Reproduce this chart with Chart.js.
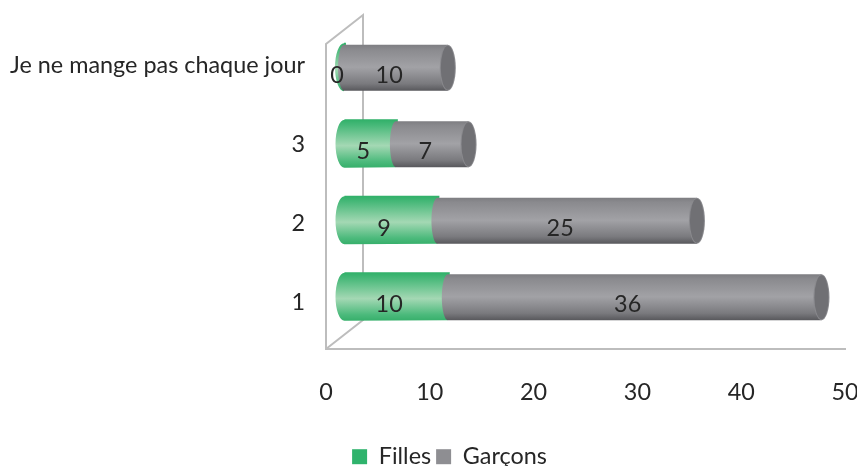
<!DOCTYPE html>
<html><head><meta charset="utf-8">
<style>html,body{margin:0;padding:0;background:#fff}canvas{display:block}</style>
<script src="https://cdn.jsdelivr.net/npm/chart.js@4"></script></head>
<body><canvas id="c" width="857" height="466"></canvas>
<script>
const categories = ['Je ne mange pas chaque jour', '3', '2', '1'];
const filles = [0, 5, 9, 10];
const garcons = [10, 7, 25, 36];
const tickValues = { min: 0, max: 50, step: 10 };
const seriesNames = ['Filles', 'Garçons'];

const FONT = 'Lato';
const FONT_SIZE = 23.4;
const TEXT = '#262626';
const WALL = '#bdbdbd';
const DEPTH_X = 37, DEPTH_Y = 29, BAR_SHIFT = 18, RX = 8;

function grad(ctx, t, b, stops) {
  const g = ctx.createLinearGradient(0, t, 0, b);
  stops.forEach(s => g.addColorStop(s[0], s[1]));
  return g;
}
const GREEN = [[0,'#2fb068'],[0.12,'#46b878'],[0.55,'#a4d8b4'],[0.88,'#4cba7c'],[1,'#38b06c']];
const GRAY = [[0,'#7b7b7f'],[0.12,'#8a8a8e'],[0.5,'#a2a2a6'],[0.85,'#7a7a7e'],[1,'#58585c']];

const geometry = {
  id: 'geometry',
  afterLayout(chart) {
    const s = chart.scales;
    s.x.left = 326; s.x.right = 845; s.x.top = 349; s.x.bottom = 420; s.x.configure();
    s.y.top = 25.5; s.y.bottom = 341.5; s.y.left = 0; s.y.right = 326; s.y.configure();
    s.yBars.top = 29; s.yBars.bottom = 335; s.yBars.left = 326; s.yBars.right = 326; s.yBars.configure();
    Object.assign(chart.chartArea, { left: 326, right: 845, top: 15, bottom: 349, width: 519, height: 334 });
    chart.legend.top = 440;
  }
};
const cylinders = {
  id: 'cylinders',
  beforeDatasetsDraw(chart) {
    const { ctx } = chart;
    const x0 = chart.scales.x.getPixelForValue(0);
    const fy = chart.scales.x.top, ty = 44;
    ctx.save();
    ctx.strokeStyle = WALL; ctx.lineWidth = 2;
    ctx.beginPath();
    ctx.moveTo(x0, fy); ctx.lineTo(x0, ty); ctx.lineTo(x0 + DEPTH_X, ty - DEPTH_Y);
    ctx.lineTo(x0 + DEPTH_X, fy - DEPTH_Y); ctx.lineTo(x0, fy);
    ctx.stroke();
    ctx.restore();
  },
  beforeDatasetDraw() { return false; },
  afterDatasetsDraw(chart) {
    const { ctx } = chart;
    const mf = chart.getDatasetMeta(0).data, mg = chart.getDatasetMeta(1).data;
    ctx.save();
    categories.forEach((_, i) => {
      const f = mf[i].getProps(['x', 'y', 'base', 'height'], true);
      const g = mg[i].getProps(['x', 'y', 'base', 'height'], true);
      const t = f.y - f.height / 2, b = f.y + f.height / 2, cy = f.y;
      const l = f.base + BAR_SHIFT, m = f.x + BAR_SHIFT, r = g.x + BAR_SHIFT;
      // green body
      ctx.fillStyle = grad(ctx, t - 1, b, GREEN);
      ctx.beginPath();
      ctx.moveTo(m + 2, t - 1);
      ctx.lineTo(l, t - 1);
      ctx.ellipse(l, cy, RX + 1, (b - t) / 2 + 0.5, 0, -Math.PI / 2, -3 * Math.PI / 2, true);
      ctx.lineTo(m, b);
      ctx.closePath();
      ctx.fill();
      // gray body
      ctx.fillStyle = grad(ctx, t, b, GRAY);
      ctx.beginPath();
      ctx.moveTo(r, t + 1);
      ctx.lineTo(m, t + 1);
      ctx.ellipse(m, cy + 0.5, Math.max(RX - 2, 4), (b - t - 1) / 2, 0, -Math.PI / 2, -3 * Math.PI / 2, true);
      ctx.lineTo(r, b);
      ctx.closePath();
      ctx.fill();
      // end cap: a pale rim, then the darker face
      ctx.fillStyle = '#8a8a8e';
      ctx.beginPath();
      ctx.ellipse(r, cy + 0.5, RX, (b - t - 1) / 2, 0, 0, Math.PI * 2);
      ctx.fill();
      ctx.fillStyle = '#707074';
      ctx.beginPath();
      ctx.ellipse(r, cy + 0.5, RX - 1, (b - t - 1) / 2 - 1, 0, 0, Math.PI * 2);
      ctx.fill();
      // value labels
      ctx.fillStyle = TEXT;
      ctx.font = FONT_SIZE + 'px ' + FONT;
      ctx.textAlign = 'center'; ctx.textBaseline = 'middle';
      ctx.fillText(String(filles[i]), (f.base + f.x) / 2 + 11, cy + 8);
      ctx.fillText(String(garcons[i]), (g.base + g.x) / 2 + 11, cy + 8);
    });
    ctx.restore();
  }
};

new Chart(document.getElementById('c'), {
  type: 'bar',
  data: {
    labels: categories,
    datasets: [
      { label: seriesNames[0], data: filles, backgroundColor: '#2fb36c', yAxisID: 'yBars', xAxisID: 'x', barThickness: 47 },
      { label: seriesNames[1], data: garcons, backgroundColor: '#8e8e92', yAxisID: 'yBars', xAxisID: 'x', barThickness: 47 }
    ]
  },
  options: {
    indexAxis: 'y',
    responsive: false,
    animation: false,
    layout: { padding: { left: 42, right: 0, top: 0, bottom: 0 } },
    scales: {
      x: {
        type: 'linear', position: 'bottom', stacked: true,
        min: tickValues.min, max: tickValues.max,
        ticks: { stepSize: tickValues.step, padding: 29, color: TEXT, font: { family: FONT, size: FONT_SIZE }, maxRotation: 0 },
        grid: { drawOnChartArea: false, drawTicks: false },
        border: { color: WALL, width: 2 }
      },
      y: {
        type: 'category', position: 'left',
        ticks: { padding: 21, color: TEXT, font: { family: FONT, size: FONT_SIZE }, autoSkip: false },
        grid: { display: false, drawTicks: false },
        border: { display: false }
      },
      yBars: {
        type: 'category', axis: 'y', display: false, stacked: true
      }
    },
    plugins: {
      tooltip: { enabled: false },
      legend: {
        position: 'bottom',
        labels: { boxWidth: 15, boxHeight: 15, padding: 5, color: TEXT, font: { family: FONT, size: FONT_SIZE } }
      }
    }
  },
  plugins: [geometry, cylinders]
});
</script></body></html>
